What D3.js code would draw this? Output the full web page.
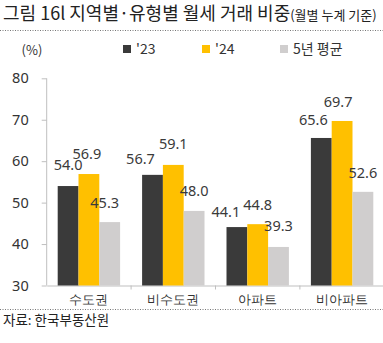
<!DOCTYPE html>
<html><head><meta charset="utf-8">
<script src="https://cdn.jsdelivr.net/npm/d3@7"></script>
<style>
html,body{margin:0;padding:0;background:#fff;}
svg{display:block;font-family:"Noto Sans CJK KR","Noto Sans",sans-serif;}
</style></head>
<body><svg id="c" width="383" height="343"></svg>
<script>
const categories = ["수도권", "비수도권", "아파트", "비아파트"];
const seriesNames = ["'23", "'24", "5년 평균"];
const values23 = [54.0, 56.7, 44.1, 65.6];
const values24 = [56.9, 59.1, 44.8, 69.7];
const values5y = [45.3, 48.0, 39.3, 52.6];
const yTicks = [30, 40, 50, 60, 70, 80];
const colors = ["#3a3a3a", "#ffc000", "#d0cece"];

const series = [values23, values24, values5y];
const svg = d3.select("#c");

// Title
const title = svg.append("text").attr("x", 3).attr("y", 20).attr("fill", "#222");
title.append("tspan").attr("font-size", 18).text("그림 16l 지역별·유형별 월세 거래 비중");
title.append("tspan").attr("font-size", 13).text("(월별 누계 기준)");
svg.append("line").attr("x1", 0).attr("x2", 383).attr("y1", 30.5).attr("y2", 30.5)
  .attr("stroke", "#777").attr("stroke-dasharray", "1,1.5");

const y = d3.scaleLinear().domain([30, 80]).range([285.5, 78.3]);
const x0 = d3.scaleBand().domain(categories).range([46.7, 384.3]).padding(0);
const x1 = d3.scaleBand().domain(d3.range(3)).range([11, x0.bandwidth() - 11]).padding(0);

// Y axis
const yAxis = svg.append("g").attr("transform", "translate(46.7,0)")
  .call(d3.axisLeft(y).tickValues(yTicks).tickSize(5).tickPadding(6).tickFormat(d3.format("d")));
yAxis.select(".domain").attr("stroke", "#bfbfbf").attr("d", `M0,${y(80)}V${y(30)}`);
yAxis.selectAll(".tick line").attr("stroke", "#bfbfbf");
yAxis.selectAll(".tick text").attr("font-size", 14.5).attr("fill", "#333")
  .attr("font-family", "'Noto Sans','Noto Sans CJK KR',sans-serif").attr("dx", -7);

svg.append("text").attr("x", 32).attr("y", 55).attr("text-anchor", "middle")
  .attr("font-size", 13).attr("fill", "#333").text("(%)");

// X axis
const xAxis = svg.append("g").attr("transform", `translate(0,${y(30)})`)
  .call(d3.axisBottom(x0).tickSize(0).tickPadding(10));
xAxis.select(".domain").attr("stroke", "#bfbfbf");
xAxis.selectAll(".tick text").attr("font-size", 12.5).attr("fill", "#333");
const bounds = categories.map(c => x0(c)).slice(1);
svg.append("g").selectAll("line").data(bounds).join("line")
  .attr("x1", d => d).attr("x2", d => d).attr("y1", y(30)).attr("y2", y(30) + 4)
  .attr("stroke", "#bfbfbf");

// Bars
const groups = svg.append("g").selectAll("g").data(categories).join("g")
  .attr("transform", c => `translate(${x0(c)},0)`);
groups.selectAll("rect").data((c, i) => series.map((s, k) => ({k, v: s[i]}))).join("rect")
  .attr("x", d => x1(d.k)).attr("width", x1.bandwidth())
  .attr("y", d => y(d.v)).attr("height", d => y(30) - y(d.v))
  .attr("fill", d => colors[d.k]);

// Value labels (layout offsets: [dx, gap above bar top])
const labelOffsets = [
  [[0, 16], [-2, 15], [-5, 14]],
  [[-12, 11], [0, 15.5], [0, 15]],
  [[-11, 10.5], [0, 14.5], [0, 15.5]],
  [[-8, 12.5], [-4, 14], [0, 13.5]]
];
groups.each(function(c, i) {
  d3.select(this).selectAll("text.v").data(series.map((s, k) => ({k, v: s[i]}))).join("text")
    .attr("class", "v")
    .attr("x", d => x1(d.k) + x1.bandwidth() / 2 + labelOffsets[i][d.k][0])
    .attr("y", d => y(d.v) - labelOffsets[i][d.k][1])
    .attr("text-anchor", "middle").attr("font-size", 14.5).attr("fill", "#3a3a3a")
    .attr("font-family", "'Noto Sans','Noto Sans CJK KR',sans-serif")
    .text(d => d.v.toFixed(1));
});

// Legend
const legX = [123, 202, 280];
const leg = svg.append("g").selectAll("g").data(seriesNames).join("g")
  .attr("transform", (d, i) => `translate(${legX[i]},49)`);
leg.append("rect").attr("x", 0).attr("y", -4).attr("width", 8).attr("height", 8)
  .attr("fill", (d, i) => colors[i]);
leg.append("text").attr("x", 13).attr("y", 5).attr("font-size", 14).attr("fill", "#333").text(d => d);

// Footer
svg.append("line").attr("x1", 0).attr("x2", 383).attr("y1", 309.5).attr("y2", 309.5)
  .attr("stroke", "#777").attr("stroke-dasharray", "1,1.5");
svg.append("text").attr("x", 3).attr("y", 325).attr("font-size", 13.5).attr("fill", "#222").text("자료: 한국부동산원");
</script></body></html>
